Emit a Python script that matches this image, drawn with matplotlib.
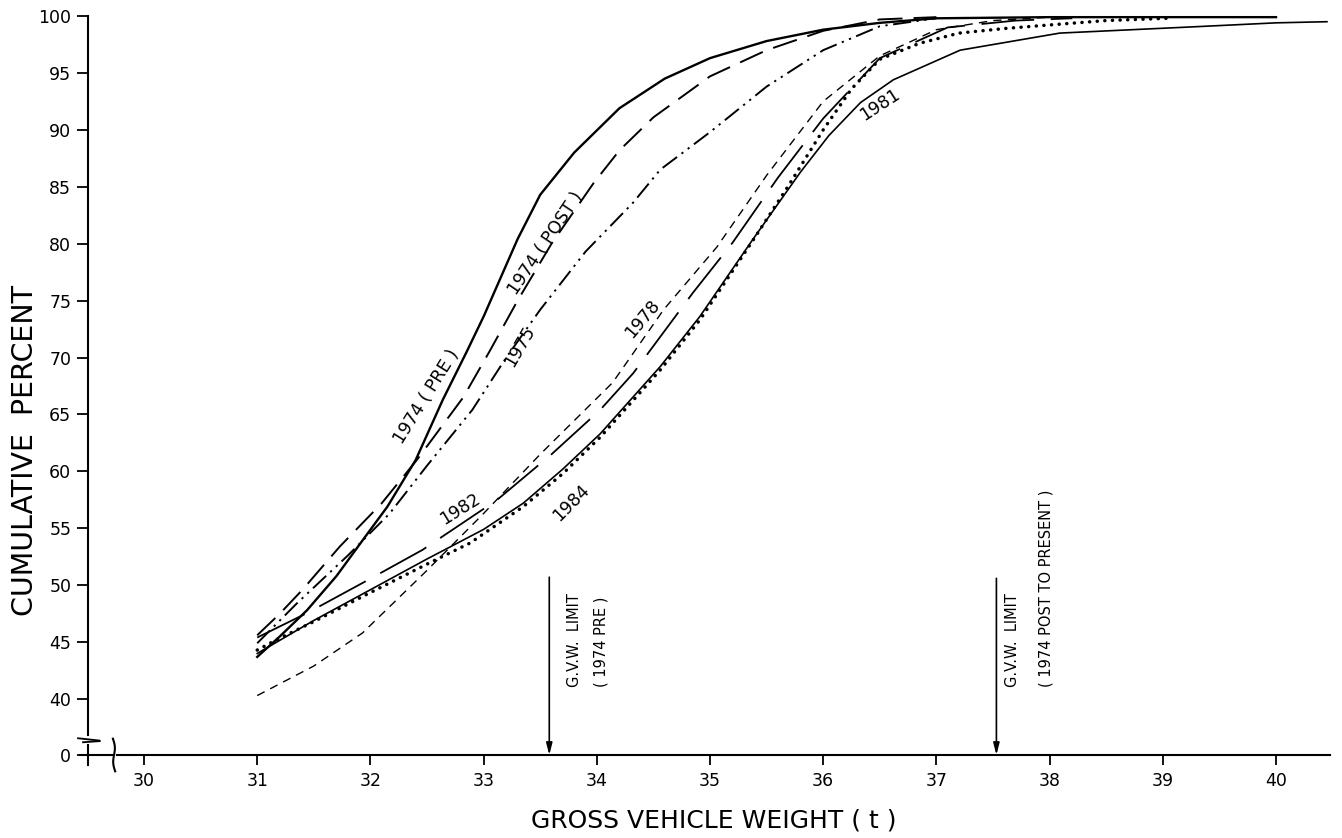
import numpy as np
import matplotlib
matplotlib.use("Agg")
import matplotlib.pyplot as plt

plt.rcParams["font.family"] = ["DejaVu Sans"]
plt.rcParams["lines.scale_dashes"] = False

# ── Cumulative GVW distributions by survey year ─────────────────────────────
# (gross vehicle weight in t, cumulative percent)

pre74_x = [31.0, 31.2, 31.44, 31.7, 31.95, 32.15, 32.4, 32.64, 32.85, 33.0, 33.15,
           33.3, 33.5, 33.8, 34.2, 34.6, 35.0, 35.5, 36.0, 36.5, 37.0, 38.0, 39.0, 40.0]
pre74_y = [43.7, 45.5, 47.8, 50.8, 54.2, 56.9, 61.0, 66.3, 70.5, 73.6, 77.0,
           80.4, 84.3, 88.0, 91.9, 94.5, 96.3, 97.8, 98.8, 99.4, 99.8, 99.9, 99.9, 99.9]

post74_x = [31.0, 31.2, 31.4, 31.73, 32.1, 32.41, 32.82, 33.05, 33.3, 33.6, 33.97,
            34.2, 34.5, 35.0, 35.5, 36.0, 36.5, 37.0]
post74_y = [45.6, 47.5, 49.6, 53.4, 57.2, 61.0, 66.5, 70.5, 75.0, 80.0, 85.3,
            88.2, 91.1, 94.7, 97.0, 98.7, 99.7, 99.9]

y1975_x = [31.0, 31.35, 31.8, 32.17, 32.5, 32.9, 33.2, 33.5, 33.9, 34.32, 34.56,
           35.0, 35.5, 36.0, 36.5, 37.0]
y1975_y = [44.9, 48.4, 52.6, 56.3, 60.5, 65.4, 70.0, 74.2, 79.3, 83.6, 86.5,
           89.8, 93.8, 97.0, 99.1, 99.8]

y1978_x = [31.0, 31.5, 31.93, 32.5, 33.0, 33.5, 34.14, 34.59, 35.06, 35.5, 36.0,
           36.5, 37.0, 37.5, 38.0]
y1978_y = [40.3, 42.9, 45.8, 51.3, 56.3, 61.5, 67.8, 74.2, 79.7, 86.0, 92.5,
           96.5, 98.8, 99.6, 99.9]

y1981_x = [31.0, 31.5, 32.0, 32.5, 33.0, 33.35, 33.7, 34.03, 34.56, 34.91, 35.38,
           35.8, 36.05, 36.33, 36.62, 37.21, 38.09, 39.27, 40.0, 40.45]
y1981_y = [44.0, 46.9, 49.6, 52.3, 54.9, 57.2, 60.2, 63.3, 69.2, 73.6, 80.4,
           86.3, 89.5, 92.4, 94.4, 97.0, 98.5, 99.05, 99.4, 99.5]

y1982_x = [31.0, 31.45, 31.95, 32.46, 33.12, 33.6, 34.03, 34.32, 34.85, 35.2, 35.6,
           36.0, 36.5, 37.1, 37.7, 38.2]
y1982_y = [45.4, 47.6, 50.3, 53.1, 57.5, 61.5, 65.4, 68.6, 75.7, 80.1, 85.8,
           91.0, 96.3, 99.0, 99.6, 99.8]

y1984_x = [31.0, 31.17, 31.5, 31.93, 32.53, 32.88, 33.35, 33.7, 34.03, 34.56, 34.91,
           35.38, 35.7, 36.0, 36.25, 36.5, 36.85, 37.2, 37.6, 37.98, 38.5, 39.04]
y1984_y = [44.3, 45.2, 46.8, 49.0, 52.0, 53.7, 56.9, 59.8, 63.0, 68.9, 73.3,
           80.3, 85.2, 90.0, 93.6, 96.2, 97.6, 98.5, 98.9, 99.2, 99.6, 99.8]

# legal GVW limits (t)
limit_pre = 33.58
limit_post = 37.53

x_ticks = list(range(30, 41))
y_tick_vals = [0] + list(range(40, 101, 5))

# the vertical axis is broken between 0 and 40; 0 is drawn at this position
Y_ZERO = 35.08
X_MIN, X_MAX = 29.505, 40.477


def y_pos(v):
    return Y_ZERO if v == 0 else v


fig = plt.figure(figsize=(13.42, 8.38), dpi=100)
ax = fig.add_axes([88 / 1342, 1 - 755 / 838, (1330 - 88) / 1342, (755 - 12.6) / 838])
ax.set_xlim(X_MIN, X_MAX)
ax.set_ylim(Y_ZERO, 100.3)

for s in ax.spines.values():
    s.set_visible(False)

# ── curves ───────────────────────────────────────────────────────────────────
k = "black"
ax.plot(pre74_x, pre74_y, color=k, lw=1.7, clip_on=False)
ax.plot(post74_x, post74_y, color=k, lw=1.4, linestyle=(0, (18, 8)))
ax.plot(y1975_x, y1975_y, color=k, lw=1.4,
        linestyle=(0, (13, 4, 1.6, 4, 1.6, 4)))
ax.plot(y1978_x, y1978_y, color=k, lw=1.0, linestyle=(0, (6, 4.5)))
ax.plot(y1981_x, y1981_y, color=k, lw=1.2, clip_on=False)
ax.plot(y1982_x, y1982_y, color=k, lw=1.3, linestyle=(0, (38, 12)))
ax.plot(y1984_x, y1984_y, color=k, lw=2.5, linestyle=(0, (0.1, 5.4)),
        dash_capstyle="round")

# ── curve labels ─────────────────────────────────────────────────────────────
lab = dict(fontsize=12.5, ha="center", va="center", rotation_mode="anchor")
ax.text(32.50, 66.6, "1974 ( PRE )", rotation=58, **lab)
ax.text(33.55, 80.0, "1974 ( POST )", rotation=56, **lab)
ax.text(33.32, 71.0, "1975", rotation=60, **lab)
ax.text(34.40, 73.4, "1978", rotation=50, **lab)
ax.text(32.79, 56.7, "1982", rotation=32, **lab)
ax.text(33.77, 57.2, "1984", rotation=45, **lab)
ax.text(36.50, 92.2, "1981", rotation=33, **lab)

# ── GVW limit arrows ─────────────────────────────────────────────────────────
arrow = dict(arrowstyle="-|>,head_length=0.7,head_width=0.18", color=k, lw=1.2,
             shrinkA=0, shrinkB=0)
ax.annotate("", xy=(limit_pre, Y_ZERO), xytext=(limit_pre, 50.7), arrowprops=arrow)
ax.annotate("", xy=(limit_post, Y_ZERO), xytext=(limit_post, 50.6), arrowprops=arrow)

vt = dict(fontsize=10.5, rotation=90, ha="center", va="bottom")
ax.text(limit_pre + 0.22, 41.05, "G.V.W.  LIMIT", **vt)
ax.text(limit_pre + 0.46, 41.05, "( 1974 PRE )", **vt)
ax.text(limit_post + 0.14, 41.05, "G.V.W.  LIMIT", **vt)
ax.text(limit_post + 0.44, 41.05, "( 1974 POST TO PRESENT )", **vt)

# ── axes with breaks ────────────────────────────────────────────────────────
yt = ax.get_yaxis_transform()
xt = ax.get_xaxis_transform()
ax.plot([0, 0], [36.85, 100], color=k, lw=1.5, transform=yt, clip_on=False)
ax.plot([0, 0], [35.95, 34.2], color=k, lw=1.5, transform=yt, clip_on=False)
# break marks on the y axis
ax.plot([-0.008, 0.009], [36.55, 36.35], color=k, lw=1.3, transform=yt, clip_on=False)
ax.plot([-0.004, 0.0095], [36.2, 36.3], color=k, lw=1.3, transform=yt, clip_on=False)

ax.plot([29.43, 29.725], [0, 0], color=k, lw=1.5, transform=xt, clip_on=False)
ax.plot([29.765, X_MAX], [0, 0], color=k, lw=1.5, transform=xt, clip_on=False)
# squiggle breaking the x axis
sq_t = np.linspace(0, 1, 30)
ax.plot(29.735 + 0.012 * np.sin(sq_t * 2 * np.pi) + 0.02 * (sq_t - 0.5),
        0.022 - 0.044 * sq_t, color=k, lw=1.5, transform=xt, clip_on=False)

ax.set_xticks(x_ticks)
ax.set_xticklabels([str(v) for v in x_ticks])
ax.set_yticks([y_pos(v) for v in y_tick_vals])
ax.set_yticklabels([str(v) for v in y_tick_vals])
ax.tick_params(axis="x", direction="out", length=7, width=1.3, pad=5, labelsize=12.5)
ax.tick_params(axis="y", direction="out", length=8, width=1.3, pad=4, labelsize=12.5)

fig.text(714 / 1342, 1 - 820 / 838, "GROSS VEHICLE WEIGHT ( t )", fontsize=18,
         ha="center", va="center")
fig.text(25 / 1342, 1 - 450 / 838, "CUMULATIVE  PERCENT", fontsize=20.5,
         ha="center", va="center", rotation=90)

fig.savefig("out.png", dpi=100)
